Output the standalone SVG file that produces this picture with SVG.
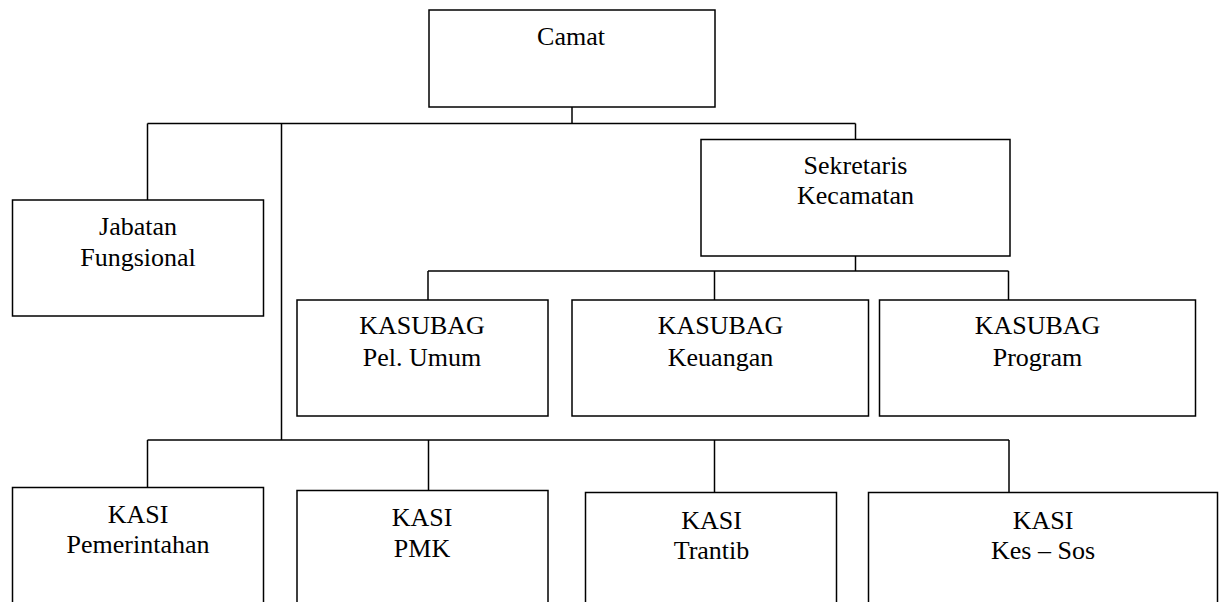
<svg xmlns="http://www.w3.org/2000/svg" width="1224" height="602" viewBox="0 0 1224 602">
<style>
.n{fill:#fff;stroke:#000;stroke-width:1.5}
line{stroke:#000;stroke-width:1.5}
text{font-family:"Liberation Serif","Times New Roman",serif;font-size:26px;text-anchor:middle;fill:#000}
</style>
<rect width="1224" height="602" fill="#fff"/>
<g id="connectors">
<line x1="572" y1="107" x2="572" y2="123.5"/>
<line x1="147.5" y1="123.5" x2="855.5" y2="123.5"/>
<line x1="147.5" y1="123.5" x2="147.5" y2="200"/>
<line x1="281.5" y1="123.5" x2="281.5" y2="440"/>
<line x1="855.5" y1="123.5" x2="855.5" y2="139.5"/>
<line x1="855.5" y1="256" x2="855.5" y2="271"/>
<line x1="428" y1="271" x2="1008.5" y2="271"/>
<line x1="428" y1="271" x2="428" y2="300"/>
<line x1="714.5" y1="271" x2="714.5" y2="300"/>
<line x1="1008.5" y1="271" x2="1008.5" y2="300"/>
<line x1="147.5" y1="440" x2="1009" y2="440"/>
<line x1="147.5" y1="440" x2="147.5" y2="487.5"/>
<line x1="428.5" y1="440" x2="428.5" y2="490.5"/>
<line x1="714.5" y1="440" x2="714.5" y2="492.5"/>
<line x1="1009" y1="440" x2="1009" y2="492.5"/>
</g>
<g id="camat"><rect class="n" x="429" y="10" width="286" height="97"/><text x="571" y="45">Camat</text></g>
<g id="jabatan"><rect class="n" x="12.5" y="200" width="251" height="116"/><text x="138" y="235">Jabatan</text><text x="138" y="265.5">Fungsional</text></g>
<g id="sekretaris"><rect class="n" x="701" y="139.5" width="309" height="116.5"/><text x="855.5" y="174">Sekretaris</text><text x="855.5" y="204">Kecamatan</text></g>
<g id="kasubag-umum"><rect class="n" x="297" y="300" width="251" height="116"/><text x="422" y="334">KASUBAG</text><text x="422" y="365.5">Pel. Umum</text></g>
<g id="kasubag-keuangan"><rect class="n" x="572" y="300" width="296.5" height="116"/><text x="720.5" y="334">KASUBAG</text><text x="720.5" y="365.5">Keuangan</text></g>
<g id="kasubag-program"><rect class="n" x="879.5" y="300" width="316" height="116"/><text x="1037.5" y="334">KASUBAG</text><text x="1037.5" y="365.5">Program</text></g>
<g id="kasi-pemerintahan"><rect class="n" x="12.5" y="487.5" width="251" height="130"/><text x="138" y="522.5">KASI</text><text x="138" y="552.5">Pemerintahan</text></g>
<g id="kasi-pmk"><rect class="n" x="297" y="490.5" width="251" height="130"/><text x="422" y="526">KASI</text><text x="422" y="556.5">PMK</text></g>
<g id="kasi-trantib"><rect class="n" x="585.5" y="492.5" width="251" height="130"/><text x="711.5" y="528.5">KASI</text><text x="711.5" y="558.5">Trantib</text></g>
<g id="kasi-kessos"><rect class="n" x="868.5" y="492.5" width="349" height="130"/><text x="1043" y="528.5">KASI</text><text x="1043" y="558.5">Kes – Sos</text></g>
</svg>
